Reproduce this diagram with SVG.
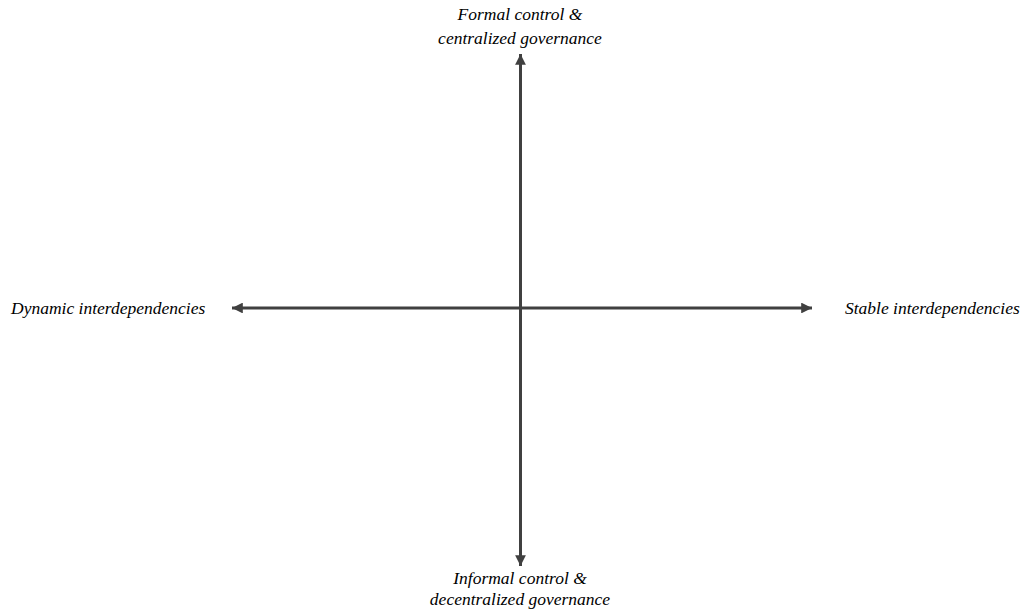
<svg xmlns="http://www.w3.org/2000/svg" width="1022" height="610" viewBox="0 0 1022 610">
<style>
.lbl{font-family:'Liberation Serif',serif;font-style:italic;font-size:17.5px;fill:#000}
.ax{stroke:#404040;stroke-width:3;fill:none}
</style>
<defs>
<marker id="ah" viewBox="0 0 10 10" refX="10" refY="5" markerWidth="3.6" markerHeight="3.6" orient="auto-start-reverse" markerUnits="strokeWidth">
<path d="M0,0 L10,5 L0,10 Z" fill="#404040"/>
</marker>
</defs>
<rect width="1022" height="610" fill="#fff"/>
<g id="connectors">
<line class="ax" x1="520.5" y1="54" x2="520.5" y2="566" marker-start="url(#ah)" marker-end="url(#ah)"/>
<line class="ax" x1="232" y1="308" x2="812" y2="308" marker-start="url(#ah)" marker-end="url(#ah)"/>
</g>
<g id="top"><text class="lbl" text-anchor="middle" x="520" y="20">Formal control &amp;</text><text class="lbl" text-anchor="middle" x="520" y="44">centralized governance</text></g>
<g id="bottom"><text class="lbl" text-anchor="middle" x="520" y="584">Informal control &amp;</text><text class="lbl" text-anchor="middle" x="520" y="605">decentralized governance</text></g>
<g id="left"><text class="lbl" x="11" y="314">Dynamic interdependencies</text></g>
<g id="right"><text class="lbl" x="845" y="314">Stable interdependencies</text></g>
</svg>
